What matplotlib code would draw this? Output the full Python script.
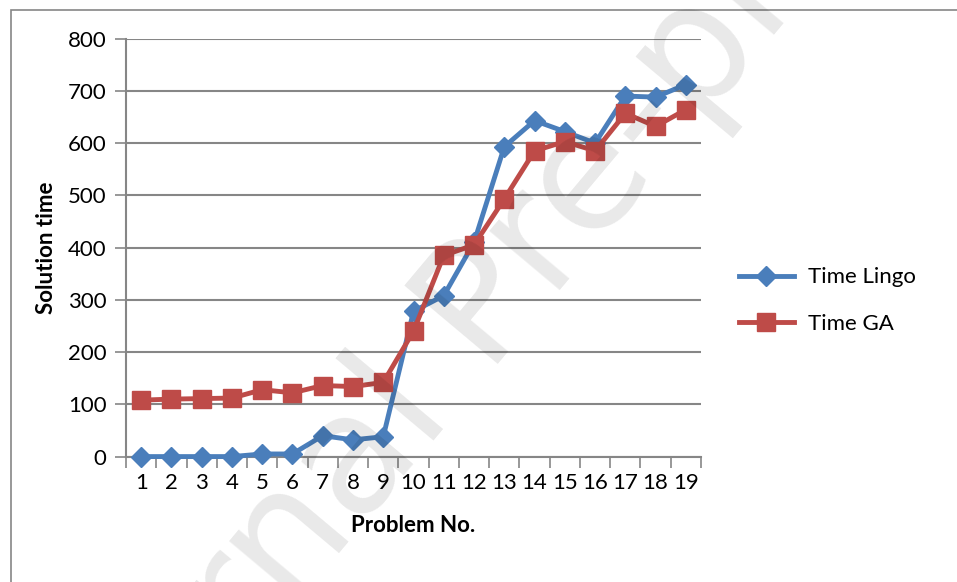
import numpy as np
import matplotlib.pyplot as plt

# data
problems = [str(i) for i in range(1, 20)]
time_lingo = [0, 0, 0, 0, 5, 5, 40, 32, 38, 278, 308, 410, 593, 643, 622, 600, 690, 688, 712]
time_ga = [108, 110, 111, 112, 128, 122, 136, 134, 142, 240, 385, 405, 493, 585, 603, 585, 657, 632, 664]

plt.rcParams['font.family'] = ['Lato', 'DejaVu Sans']

fig = plt.figure(figsize=(9.57, 5.82), dpi=100)
ax = fig.add_axes([0.1317, 0.2155, 0.6008, 0.7182])

x = np.arange(len(problems))
ax.plot(x, time_lingo, color='#4A7EBB', lw=3.5, marker='D', markersize=10,
        label='Time Lingo', zorder=3, solid_joinstyle='round', clip_on=False)
ax.plot(x, time_ga, color='#BE4B48', lw=3.5, marker='s', markersize=13,
        label='Time GA', zorder=4, solid_joinstyle='round', clip_on=False)

ax.set_xlim(-0.5, len(problems) - 0.5)
ax.set_ylim(0, 800)
ax.set_yticks(range(0, 801, 100))
ax.set_xticks(x)
ax.set_xticklabels(problems)
ax.set_xticks(np.arange(-0.5, len(problems), 1), minor=True)
ax.tick_params(axis='x', which='major', length=0, labelsize=16, pad=12)
ax.tick_params(axis='x', which='minor', length=8, width=1.2, color='#868686', direction='out')
ax.tick_params(axis='y', length=8, width=1.2, color='#868686', labelsize=16, pad=6)

ax.grid(axis='y', color='#868686', lw=1.5)
ax.set_axisbelow(True)
for s in ['top', 'right']:
    ax.spines[s].set_visible(False)
for s in ['left', 'bottom']:
    ax.spines[s].set_color('#868686')
    ax.spines[s].set_linewidth(1.5)

ax.set_ylabel('Solution time', fontsize=16, fontweight='bold', labelpad=8)
ax.set_xlabel('Problem No.', fontsize=16, fontweight='bold', labelpad=16)

ax.legend(loc='center left', bbox_to_anchor=(1.05, 0.373), frameon=False,
          fontsize=16, handlelength=2.5, handletextpad=0.6, labelspacing=1.2,
          borderaxespad=0)

# outer chart border
fig.patches.append(plt.Rectangle((0.011, -0.01), 1.2, 0.993, transform=fig.transFigure,
                                 fill=False, edgecolor='#868686', lw=1.2))

# watermark
fig.text(0.52, 0.48, 'Journal Pre-proof', fontsize=120, color='#000000', alpha=0.09,
         rotation=50, ha='center', va='center', family='DejaVu Sans', zorder=10)

fig.savefig('out.png', dpi=100)
